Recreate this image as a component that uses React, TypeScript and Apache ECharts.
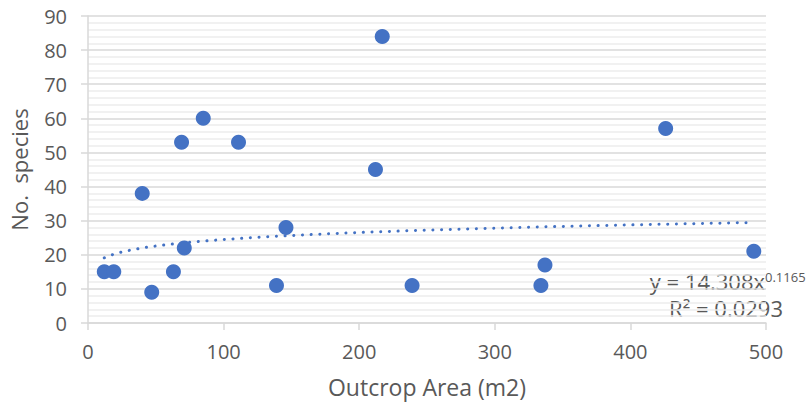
import React, { useEffect, useRef } from "react";
import * as echarts from "echarts";

const areaValues: number[] = [12, 19, 40, 47, 63, 71, 69, 85, 111, 139, 146, 212, 217, 239, 334, 337, 426, 491];
const speciesValues: number[] = [15, 15, 38, 9, 15, 22, 53, 60, 53, 11, 28, 45, 84, 11, 11, 17, 57, 21];
const xTicks: number[] = [0, 100, 200, 300, 400, 500];
const yTicks: number[] = [0, 10, 20, 30, 40, 50, 60, 70, 80, 90];
const trendCoef = 14.308;
const trendExp = 0.1165;
const trendLabel = "y = 14.308x";
const trendExpLabel = "0.1165";
const r2Label = "R\u00b2 = 0.0293";

const FONT = "'Open Sans', 'Noto Sans', sans-serif";
const GREY = "#595959";
const BLUE = "#4472C4";

export default function App() {
  const ref = useRef<HTMLDivElement>(null);
  useEffect(() => {
    if (!ref.current) return;
    const chart = echarts.init(ref.current, undefined, { renderer: "svg" });
    const pts = areaValues.map((x, i) => [x, speciesValues[i]]);
    const xMin = Math.min(...areaValues);
    const xMax = Math.max(...areaValues);
    const trend: number[][] = [];
    const n = 120;
    for (let i = 0; i <= n; i++) {
      const x = xMin + ((xMax - xMin) * i) / n;
      trend.push([x, trendCoef * Math.pow(x, trendExp)]);
    }
    chart.setOption({
      animation: false,
      grid: { left: 88, right: 41, top: 16, bottom: 88, containLabel: false },
      xAxis: {
        type: "value",
        min: xTicks[0],
        max: xTicks[xTicks.length - 1],
        interval: 100,
        name: "Outcrop Area (m2)",
        nameLocation: "middle",
        nameGap: 52,
        nameTextStyle: { color: GREY, fontSize: 23, fontFamily: FONT },
        axisLine: { show: true, lineStyle: { color: "#d9d9d9", width: 1.5 } },
        axisTick: { show: true, length: 7, lineStyle: { color: "#d9d9d9", width: 1.5 } },
        axisLabel: { color: GREY, fontSize: 20, fontFamily: FONT, margin: 18 },
        splitLine: { show: false },
      },
      yAxis: {
        type: "value",
        min: yTicks[0],
        max: yTicks[yTicks.length - 1],
        interval: 10,
        name: "No.  species",
        nameLocation: "middle",
        nameGap: 58,
        nameTextStyle: { color: GREY, fontSize: 22, fontFamily: FONT },
        axisLine: { show: true, lineStyle: { color: "#d9d9d9", width: 1.5 } },
        axisTick: { show: true, length: 7, lineStyle: { color: "#d9d9d9", width: 1.5 } },
        axisLabel: { color: GREY, fontSize: 20, fontFamily: FONT, margin: 21 },
        splitLine: { show: true, lineStyle: { color: "#d9d9d9", width: 1.5 } },
        minorTick: { show: false, splitNumber: 5 },
        minorSplitLine: { show: true, lineStyle: { color: "#ececec", width: 1.5 } },
      },
      series: [
        {
          type: "line",
          data: trend,
          showSymbol: false,
          symbol: "none",
          lineStyle: { color: BLUE, width: 3, type: [0.1, 8.6], cap: "round" },
          silent: true,
          z: 2,
        },
        {
          type: "scatter",
          data: pts,
          symbol: "circle",
          symbolSize: 15,
          itemStyle: { color: BLUE, opacity: 1 },
          z: 3,
        },
      ],
      graphic: [
        {
          type: "text",
          right: 42,
          top: 270,
          style: { text: trendLabel, fill: GREY, font: `22px ${FONT}` },
        },
        {
          type: "text",
          left: 765,
          top: 270,
          style: { text: trendExpLabel, fill: GREY, font: `13px ${FONT}` },
        },
        {
          type: "text",
          right: 24,
          top: 297,
          style: { text: r2Label, fill: GREY, font: `22px ${FONT}` },
        },
      ],
    });
    return () => chart.dispose();
  }, []);
  return <div ref={ref} style={{ width: 807, height: 411, position: "absolute", left: 0, top: 0 }} />;
}
